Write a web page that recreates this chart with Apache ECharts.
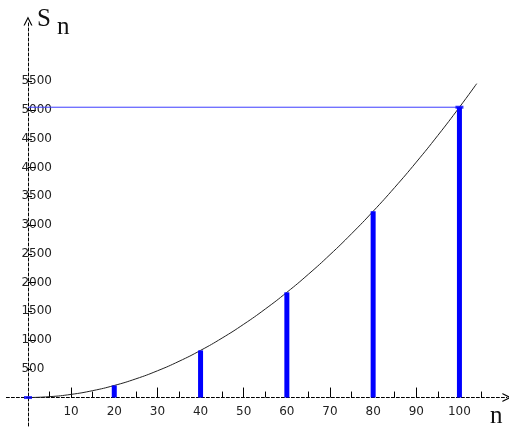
<!DOCTYPE html>
<html>
<head>
<meta charset="utf-8">
<script src="https://cdn.jsdelivr.net/npm/echarts@6/dist/echarts.min.js"></script>
<style>
  html, body { margin: 0; padding: 0; background: #fff; }
  #chart { width: 509px; height: 427px; }
</style>
</head>
<body>
<div id="chart"></div>
<script>
// values: S_n against n
const curveN = [0, 5, 10, 15, 20, 25, 30, 35, 40, 45, 50, 55, 60, 65, 70, 75, 80, 85, 90, 95, 100, 104]
const curveS = [0, 15, 55, 120, 210, 325, 465, 630, 820, 1035, 1275, 1540, 1830, 2145, 2485, 2850, 3240, 3655, 4095, 4560, 5050, 5460]
const barN = [20, 40, 60, 80, 100]
const barS = [210, 820, 1830, 3240, 5050]
const limitS = 5050
const dotN = [0, 100]
const dotS = [0, 5050]

const xMajorTicks = [10, 20, 30, 40, 50, 60, 70, 80, 90, 100]
const xMinorTicks = [5, 15, 25, 35, 45, 55, 65, 75, 85, 95, 105]
const yMajorTicks = [1000, 2000, 3000, 4000, 5000]
const yMinorTicks = [500, 1500, 2500, 3500, 4500, 5500]
const yLabels = [500, 1000, 1500, 2000, 2500, 3000, 3500, 4000, 4500, 5000, 5500]

const chart = echarts.init(document.getElementById('chart'))

const axisLineStyle = { color: '#000', width: 1, type: [3, 2] }
const labelFont = { fontFamily: 'DejaVu Sans', fontSize: 12, color: '#222' }
const chevron = 'path://M0,10 L5,0 L10,10 L8.6,10 L5,2.8 L1.4,10 Z'
const plain = v => String(v)

chart.setOption({
  animation: false,
  backgroundColor: '#fff',
  grid: { left: 6.4, top: 21, width: 500.5, height: 405, containLabel: false, outerBoundsMode: 'none' },
  xAxis: [
    {
      type: 'value', position: 'bottom', min: -5, max: 111,
      axisLine: { show: true, onZero: true, lineStyle: axisLineStyle, symbol: ['none', chevron], symbolSize: [9, 11] },
      axisTick: { show: true, inside: true, length: 10, customValues: xMajorTicks, lineStyle: { color: '#000' } },
      // labels sit at the grid edge, pull them up under the zero line
      axisLabel: { show: true, customValues: xMajorTicks, margin: -20, formatter: plain, ...labelFont },
      splitLine: { show: false }
    },
    {
      type: 'value', position: 'bottom', min: -5, max: 111,
      axisLine: { show: false, onZero: true },
      axisTick: { show: true, inside: true, length: 6, customValues: xMinorTicks, lineStyle: { color: '#000' } },
      axisLabel: { show: false },
      splitLine: { show: false }
    }
  ],
  yAxis: [
    {
      type: 'value', position: 'left', min: -495, max: 6550,
      axisLine: { show: true, onZero: true, lineStyle: axisLineStyle, symbol: ['none', chevron], symbolSize: [9, 11] },
      axisTick: { show: true, inside: true, length: 8, customValues: yMajorTicks, lineStyle: { color: '#000' } },
      axisLabel: { show: true, inside: true, align: 'left', customValues: yLabels, margin: 15, formatter: plain, ...labelFont },
      splitLine: { show: false }
    },
    {
      type: 'value', position: 'left', min: -495, max: 6550,
      axisLine: { show: false, onZero: true },
      axisTick: { show: true, inside: true, length: 4, customValues: yMinorTicks, lineStyle: { color: '#000' } },
      axisLabel: { show: false },
      splitLine: { show: false }
    }
  ],
  graphic: [
    { type: 'text', left: 37, top: 7, style: { text: 'S', font: '25px "Liberation Serif"', fill: '#111' } },
    { type: 'text', left: 57, top: 15, style: { text: 'n', font: '25px "Liberation Serif"', fill: '#111' } },
    { type: 'text', left: 490, top: 404, style: { text: 'n', font: '25px "Liberation Serif"', fill: '#111' } }
  ],
  series: [
    { type: 'line', data: [[0, limitS], [100, limitS]], symbol: 'none', lineStyle: { color: '#3c3cff', width: 1 }, z: 2 },
    { type: 'line', data: curveN.map((n, i) => [n, curveS[i]]), smooth: true, symbol: 'none', lineStyle: { color: '#222', width: 1 }, z: 3 },
    { type: 'bar', data: barN.map((n, i) => [n, barS[i]]), barWidth: 5, itemStyle: { color: '#0000ff' }, z: 4 },
    { type: 'scatter', data: dotN.map((n, i) => [n, dotS[i]]), symbol: 'rect', symbolSize: [8, 3], itemStyle: { color: '#0000ff' }, z: 5 }
  ]
})
</script>
</body>
</html>
